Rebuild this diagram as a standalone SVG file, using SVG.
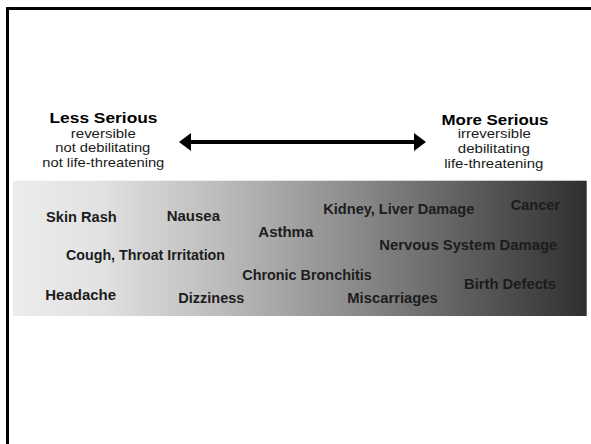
<svg xmlns="http://www.w3.org/2000/svg" width="591" height="444" viewBox="0 0 591 444">
<defs>
<linearGradient id="band" x1="0" y1="0" x2="1" y2="0">
<stop offset="0" stop-color="#ececec"/>
<stop offset="0.15" stop-color="#e2e2e2"/>
<stop offset="0.38" stop-color="#b8b8b8"/>
<stop offset="0.6" stop-color="#8a8a8a"/>
<stop offset="0.8" stop-color="#5c5c5c"/>
<stop offset="1" stop-color="#2f2f2f"/>
</linearGradient>
<marker id="head" viewBox="0 0 12 18" refX="1" refY="9" markerWidth="12" markerHeight="18" markerUnits="userSpaceOnUse" orient="auto-start-reverse">
<path d="M0,0 L12,9 L0,18 Z" fill="#000"/>
</marker>
<style>
.h{font-family:"Liberation Sans",Arial,sans-serif;font-weight:bold;font-size:15.5px;fill:#000;text-anchor:middle}
.s{font-family:"Liberation Sans",Arial,sans-serif;font-size:13.5px;fill:#1a1a1a;text-anchor:middle}
.l{font-family:"Liberation Sans",Arial,sans-serif;font-weight:bold;font-size:15px;fill:#1c1c1c}
</style>
</defs>
<path d="M7.5,444 L7.5,8.5 L591,8.5" fill="none" stroke="#000" stroke-width="3"/>
<rect x="12.7" y="180.7" width="574" height="135.3" fill="url(#band)"/>
<g id="less">
<text class="h" x="103.5" y="122.7" textLength="108" lengthAdjust="spacingAndGlyphs">Less Serious</text>
<text class="s" x="103.3" y="137.5" textLength="65" lengthAdjust="spacingAndGlyphs">reversible</text>
<text class="s" x="102.8" y="152.3" textLength="95" lengthAdjust="spacingAndGlyphs">not debilitating</text>
<text class="s" x="103.3" y="166.7" textLength="122" lengthAdjust="spacingAndGlyphs">not life-threatening</text>
</g>
<g id="more">
<text class="h" x="495" y="124.8" textLength="107" lengthAdjust="spacingAndGlyphs">More Serious</text>
<text class="s" x="494.3" y="138.3" textLength="73" lengthAdjust="spacingAndGlyphs">irreversible</text>
<text class="s" x="493.8" y="153.3" textLength="72" lengthAdjust="spacingAndGlyphs">debilitating</text>
<text class="s" x="493.8" y="168.3" textLength="99" lengthAdjust="spacingAndGlyphs">life-threatening</text>
</g>
<g id="connectors">
<line x1="190" y1="142" x2="415" y2="142" stroke="#000" stroke-width="4" marker-start="url(#head)" marker-end="url(#head)"/>
</g>
<g id="labels">
<g id="skin-rash"><text class="l" x="46" y="222.3" textLength="70.7" lengthAdjust="spacingAndGlyphs">Skin Rash</text></g>
<g id="nausea"><text class="l" x="166.7" y="221" textLength="53.3" lengthAdjust="spacingAndGlyphs">Nausea</text></g>
<g id="asthma"><text class="l" x="258.3" y="237" textLength="55" lengthAdjust="spacingAndGlyphs">Asthma</text></g>
<g id="kidney"><text class="l" x="323.3" y="214" textLength="151" lengthAdjust="spacingAndGlyphs">Kidney, Liver Damage</text></g>
<g id="cancer"><text class="l" x="510.7" y="209.7" textLength="49.3" lengthAdjust="spacingAndGlyphs">Cancer</text></g>
<g id="cough"><text class="l" x="66" y="260" textLength="159" lengthAdjust="spacingAndGlyphs">Cough, Throat Irritation</text></g>
<g id="nervous"><text class="l" x="379.3" y="250" textLength="178" lengthAdjust="spacingAndGlyphs">Nervous System Damage</text></g>
<g id="bronchitis"><text class="l" x="242.3" y="280.3" textLength="129.4" lengthAdjust="spacingAndGlyphs">Chronic Bronchitis</text></g>
<g id="birth"><text class="l" x="464" y="289.3" textLength="92" lengthAdjust="spacingAndGlyphs">Birth Defects</text></g>
<g id="headache"><text class="l" x="45.3" y="300" textLength="70.7" lengthAdjust="spacingAndGlyphs">Headache</text></g>
<g id="dizziness"><text class="l" x="178.3" y="302.7" textLength="66" lengthAdjust="spacingAndGlyphs">Dizziness</text></g>
<g id="miscarriages"><text class="l" x="347.3" y="302.7" textLength="90.4" lengthAdjust="spacingAndGlyphs">Miscarriages</text></g>
</g>
</svg>
